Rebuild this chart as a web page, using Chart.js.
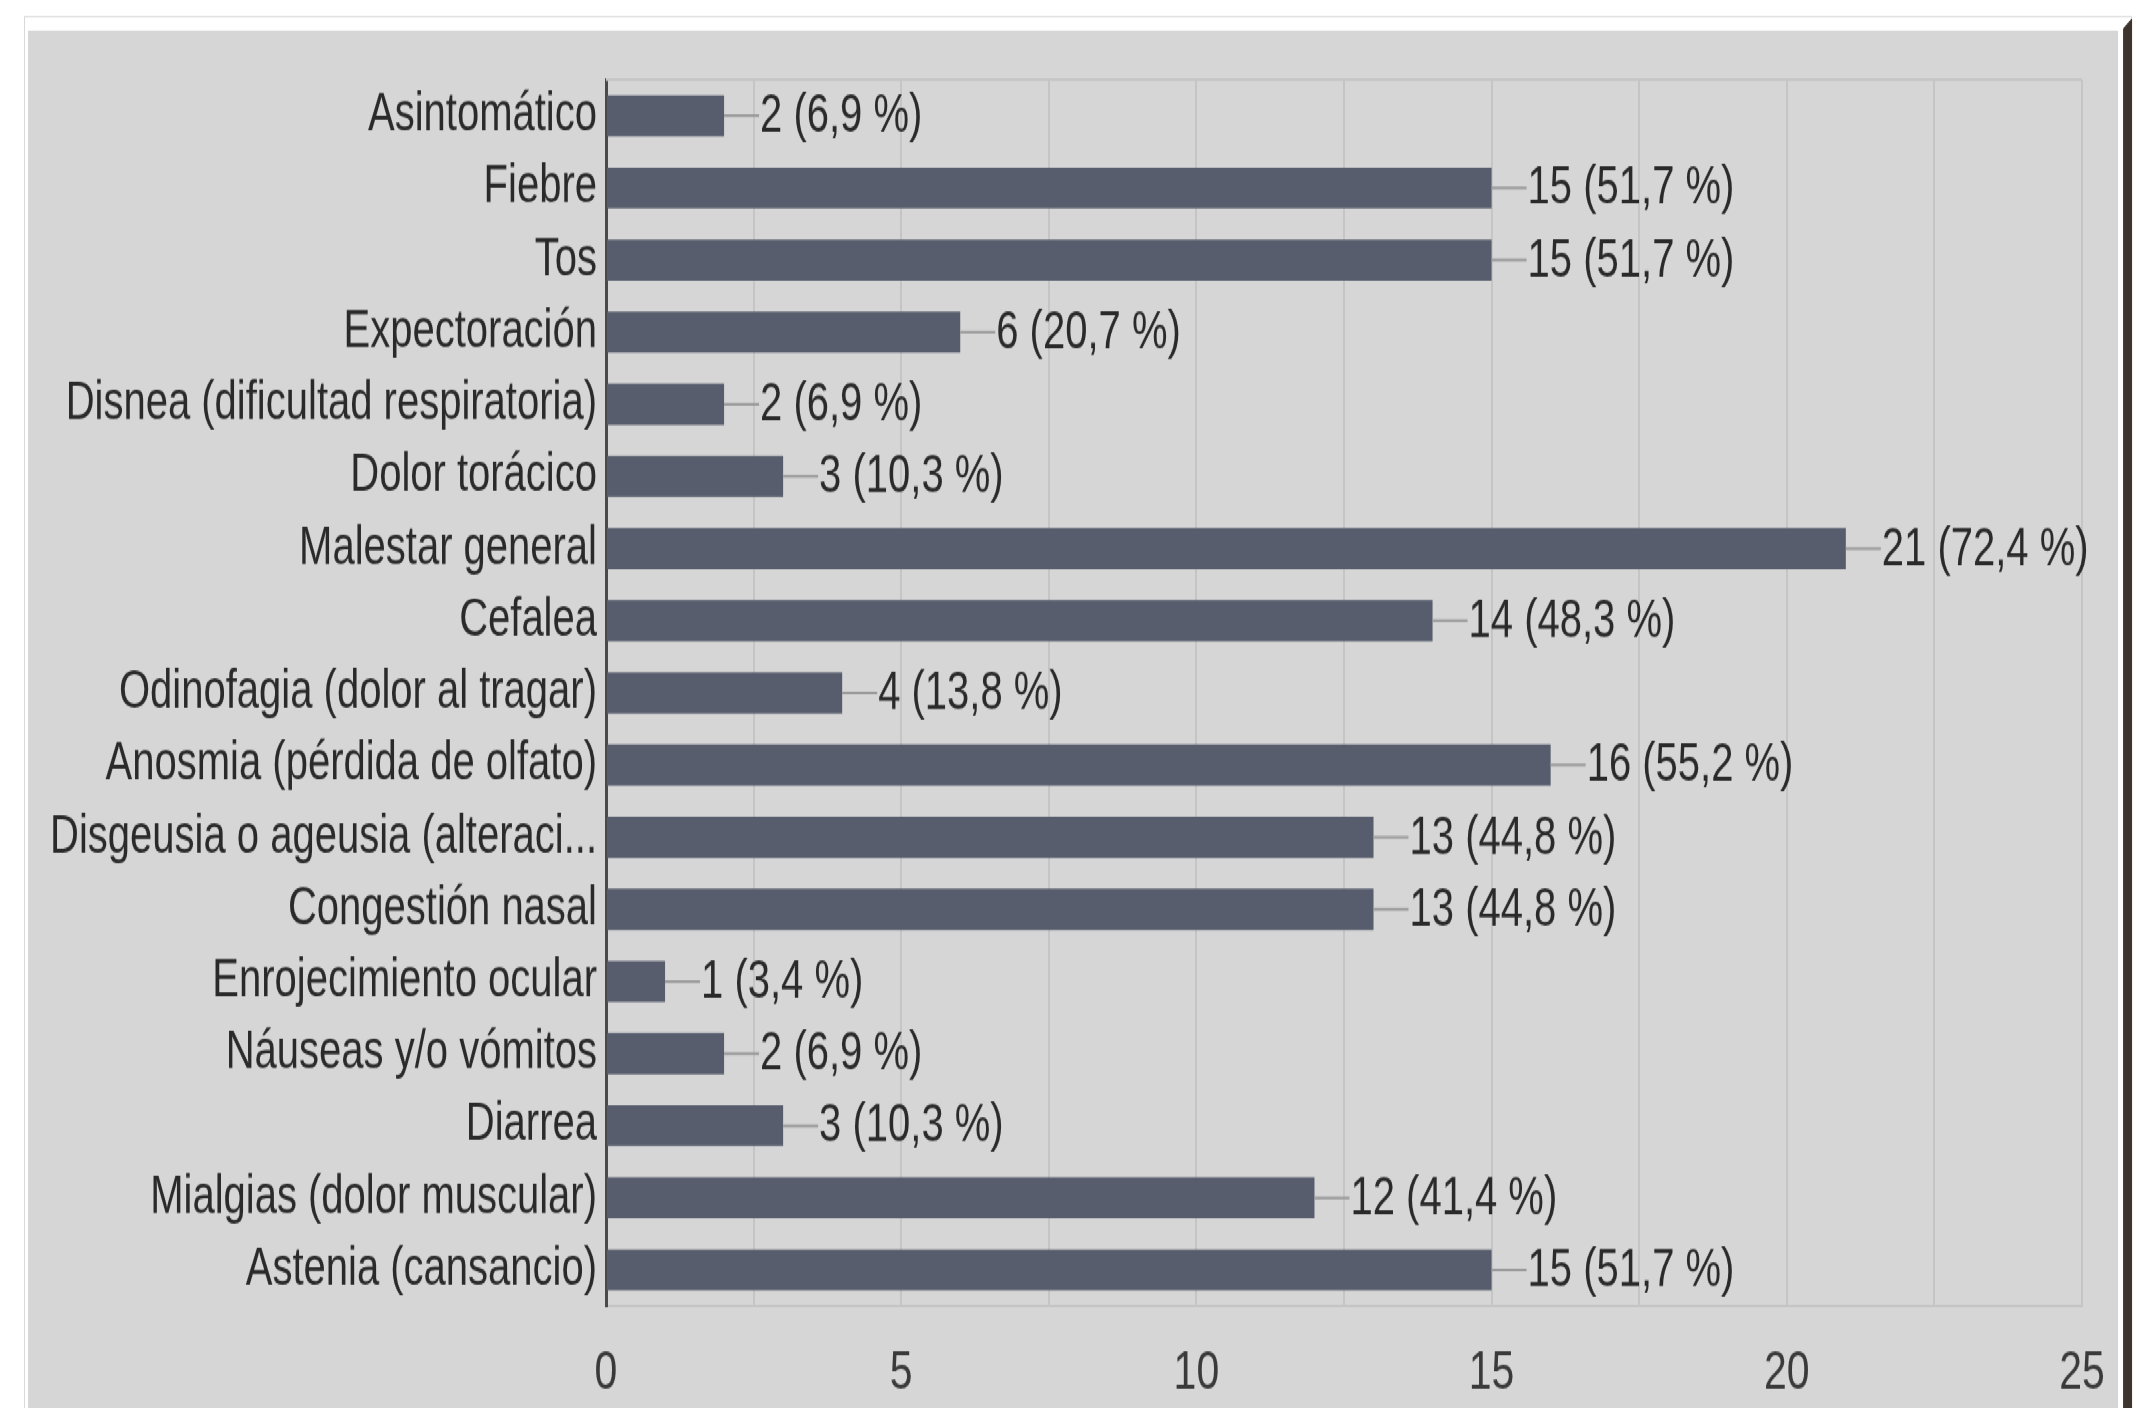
<!DOCTYPE html>
<html lang="es">
<head>
<meta charset="utf-8">
<title>Síntomas</title>
<script src="https://cdn.jsdelivr.net/npm/chart.js@4.4.1/dist/chart.umd.min.js"></script>
<style>
  html, body { margin: 0; padding: 0; background: #ffffff; overflow: hidden; }
  body { width: 2139px; height: 1408px; position: relative; }
  #wrap {
    position: absolute; left: 0; top: 0;
    width: 2139px; height: 1059px;
    transform: scaleY(1.33); transform-origin: 0 0;
  }
  .card {
    position: absolute; left: 24px; top: 12px; width: 2108px; height: 1100px;
    border: 1px solid #d9d9d9; background: #ffffff; box-sizing: border-box;
  }
  .fill {
    position: absolute; left: 28px; top: 22.5px; width: 2090px; height: 1100px;
    background: #d6d6d6;
  }
  .edge {
    position: absolute; left: 2123px; top: 13.5px; width: 9px; height: 1100px;
    background: #3d342e;
    clip-path: polygon(0 8px, 100% 0, 100% 100%, 0 100%);
  }
  #chart { position: absolute; left: 0; top: 0; width: 2139px; height: 1059px; }
</style>
</head>
<body>
<div id="wrap">
  <div class="card"></div>
  <div class="fill"></div>
  <div class="edge"></div>
  <div id="chart"><canvas id="c"></canvas></div>
</div>
<script>
// Symptom categories, counts and the percentage shown beside each bar
const categories = [
  'Asintomático',
  'Fiebre',
  'Tos',
  'Expectoración',
  'Disnea (dificultad respiratoria)',
  'Dolor torácico',
  'Malestar general',
  'Cefalea',
  'Odinofagia (dolor al tragar)',
  'Anosmia (pérdida de olfato)',
  'Disgeusia o ageusia (alteraci...',
  'Congestión nasal',
  'Enrojecimiento ocular',
  'Náuseas y/o vómitos',
  'Diarrea',
  'Mialgias (dolor muscular)',
  'Astenia (cansancio)'
];
const counts = [2, 15, 15, 6, 2, 3, 21, 14, 4, 16, 13, 13, 1, 2, 3, 12, 15];
const percents = ['6,9', '51,7', '51,7', '20,7', '6,9', '10,3', '72,4', '48,3', '13,8',
                  '55,2', '44,8', '44,8', '3,4', '6,9', '10,3', '41,4', '51,7'];
const xMax = 25;
const xStep = 2.5;
const xLabelEvery = 5;

const FONT = "'Liberation Sans', Arial, sans-serif";
const BAR = '#575d6d';
const GRID = '#c5c5c5';
const TEXT = '#2a2a2a';

// Leader line plus "n (p %)" text at the end of every bar
const valueLabels = {
  id: 'valueLabels',
  afterDatasetsDraw(chart) {
    const ctx = chart.ctx;
    const meta = chart.getDatasetMeta(0);
    ctx.save();
    ctx.font = '40px ' + FONT;
    ctx.textAlign = 'left';
    ctx.textBaseline = 'middle';
    meta.data.forEach((bar, i) => {
      const x = bar.x, y = bar.y;
      ctx.strokeStyle = '#9a9a9a';
      ctx.lineWidth = 2;
      ctx.beginPath();
      ctx.moveTo(x, y);
      ctx.lineTo(x + 35, y);
      ctx.stroke();
      ctx.fillStyle = TEXT;
      ctx.fillText(counts[i] + ' (' + percents[i] + ' %)', x + 36, y + 1);
    });
    ctx.restore();
  }
};

// Thin frame line along the top of the plot area
const plotFrame = {
  id: 'plotFrame',
  beforeDatasetsDraw(chart) {
    const { ctx, chartArea: a } = chart;
    ctx.save();
    ctx.strokeStyle = GRID;
    ctx.lineWidth = 2;
    ctx.beginPath();
    ctx.moveTo(a.left, a.top);
    ctx.lineTo(a.right, a.top);
    ctx.stroke();
    ctx.restore();
  }
};

new Chart(document.getElementById('c'), {
  type: 'bar',
  data: {
    labels: categories,
    datasets: [{
      data: counts,
      backgroundColor: BAR,
      borderWidth: 0,
      barPercentage: 0.57,
      categoryPercentage: 1.0
    }]
  },
  options: {
    indexAxis: 'y',
    responsive: true,
    maintainAspectRatio: false,
    animation: false,
    devicePixelRatio: 1,
    layout: { padding: { top: 60, right: 57, bottom: 0, left: 0 } },
    plugins: {
      legend: { display: false },
      tooltip: { enabled: false },
      title: { display: false }
    },
    scales: {
      x: {
        type: 'linear',
        min: 0,
        max: xMax,
        grid: {
          color: (c) => (c.tick && c.tick.value === 0 ? 'rgba(0,0,0,0)' : GRID),
          lineWidth: 2,
          drawTicks: false
        },
        border: { display: true, color: GRID, width: 2 },
        ticks: {
          stepSize: xStep,
          autoSkip: false,
          maxRotation: 0,
          padding: 26,
          color: '#3a3a3a',
          font: { family: FONT, size: 41 },
          callback: (v) => (v % xLabelEvery === 0 ? String(v) : '')
        },
        afterFit(scale) { scale.height = 77; }
      },
      y: {
        type: 'category',
        grid: { display: false, drawTicks: false },
        border: { display: true, color: '#4a4a4a', width: 3 },
        ticks: {
          autoSkip: false,
          padding: 9,
          color: TEXT,
          font: { family: FONT, size: 40 }
        },
        afterFit(scale) { scale.width = 606; }
      }
    }
  },
  plugins: [plotFrame, valueLabels]
});
</script>
</body>
</html>
